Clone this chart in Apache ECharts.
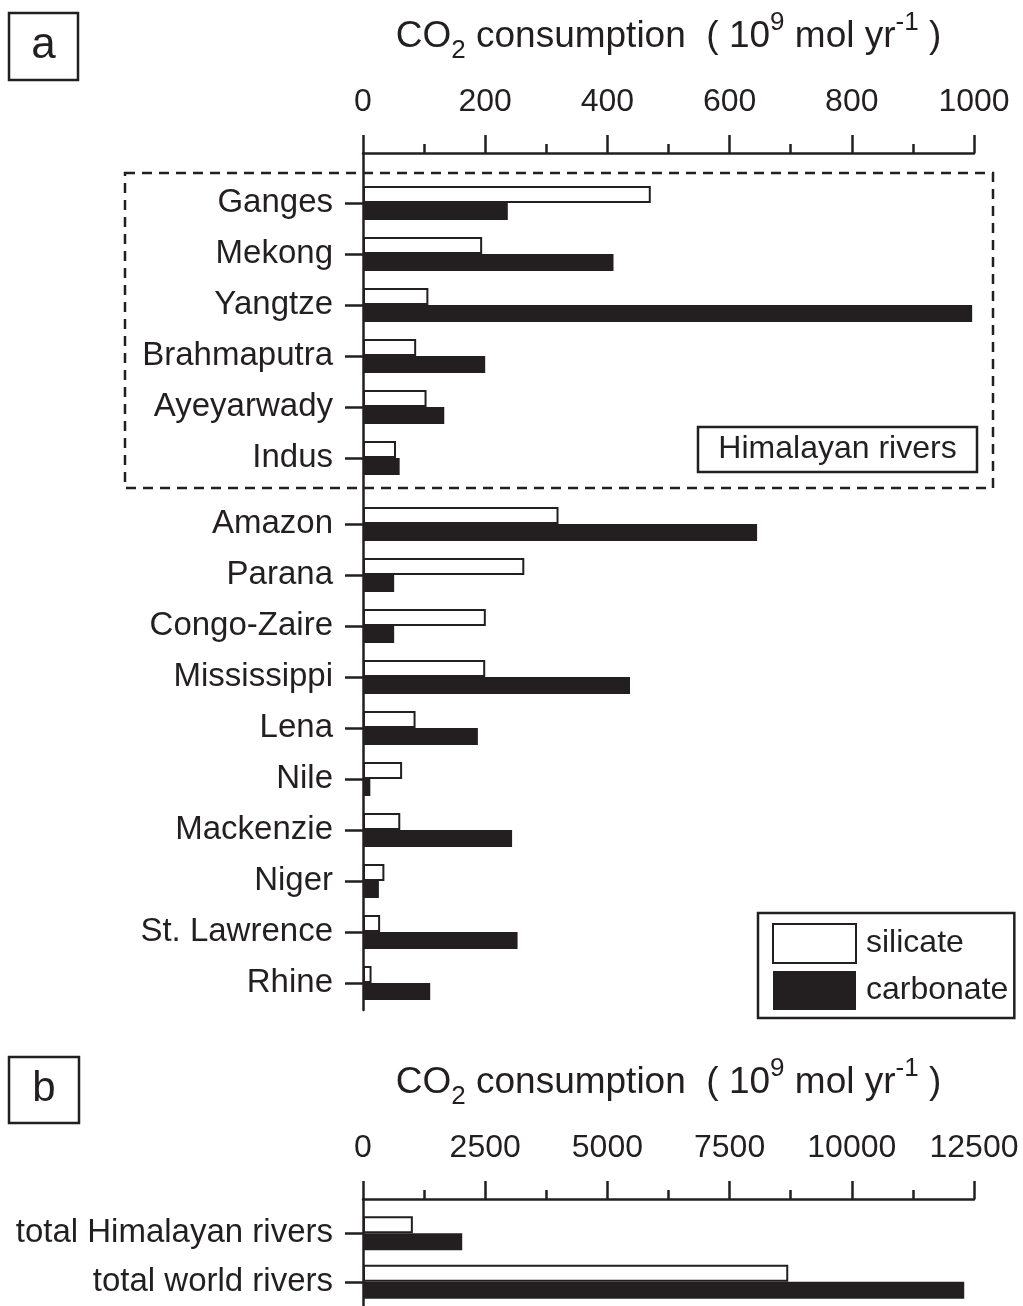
<!DOCTYPE html>
<html>
<head>
<meta charset="utf-8">
<title>CO2 consumption by river weathering</title>
<script src="https://cdn.jsdelivr.net/npm/echarts@6/dist/echarts.min.js"></script>
<style>
  html, body { margin: 0; padding: 0; background: #fff; }
  #chart { width: 1023px; height: 1306px; }
</style>
</head>
<body>
<div id="chart"></div>
<script>
// Panel a: individual rivers (10^9 mol/yr)
const himalayanRivers = ['Ganges', 'Mekong', 'Yangtze', 'Brahmaputra', 'Ayeyarwady', 'Indus'];
const himalayanSilicate = [471, 195, 107, 87, 104, 54];
const himalayanCarbonate = [237, 410, 997, 200, 133, 60];

const otherRivers = ['Amazon', 'Parana', 'Congo-Zaire', 'Mississippi', 'Lena', 'Nile', 'Mackenzie', 'Niger', 'St. Lawrence', 'Rhine'];
const otherSilicate = [320, 264, 201, 200, 86, 64, 61, 35, 28, 14];
const otherCarbonate = [645, 51, 51, 437, 188, 12, 244, 26, 253, 110];

// Panel b: totals (10^9 mol/yr)
const totalCategories = ['total Himalayan rivers', 'total world rivers'];
const totalSilicate = [1020, 8700];
const totalCarbonate = [2030, 12300];

// Axis ranges
const axisA = { min: 0, max: 1000, interval: 200 };
const axisB = { min: 0, max: 12500, interval: 2500 };

const INK = '#231f20';
const FONT = "'Liberation Sans', Arial, Helvetica, sans-serif";
const LW = 2.5;

const chart = echarts.init(document.getElementById('chart'), null, { renderer: 'canvas' });

const axisName = 'CO{sub|2} consumption  ( 10{sup|9} mol yr{sup|-1} )';
const nameStyle = {
  fontFamily: FONT, fontSize: 37, color: INK, lineHeight: 54,
  rich: {
    sub: { fontFamily: FONT, fontSize: 26, color: INK, verticalAlign: 'bottom' },
    sup: { fontFamily: FONT, fontSize: 26, color: INK, verticalAlign: 'top' }
  }
};

const L = 363, R = 49;

function frameX(gridIndex, range) {
  return {
    gridIndex, type: 'value', position: 'top',
    min: range.min, max: range.max, interval: range.interval,
    axisLine: { show: true, onZero: false, lineStyle: { color: INK, width: LW } },
    axisTick: { show: true, length: 18, lineStyle: { color: INK, width: LW } },
    minorTick: { show: true, splitNumber: 2, length: 9, lineStyle: { color: INK, width: LW } },
    splitLine: { show: false }, minorSplitLine: { show: false },
    axisLabel: {
      fontFamily: FONT, fontSize: 32, color: INK, margin: 35,
      showMinLabel: true, showMaxLabel: true,
      formatter: v => String(v)
    },
    name: axisName, nameLocation: 'middle', nameGap: 89, nameTextStyle: nameStyle
  };
}
function hiddenX(gridIndex, range) {
  return { gridIndex, type: 'value', show: false, min: range.min, max: range.max, splitLine: { show: false } };
}
function frameY(gridIndex) {
  return {
    gridIndex, type: 'value', min: 0, max: 1,
    axisLine: { show: true, onZero: false, lineStyle: { color: INK, width: LW } },
    axisTick: { show: false }, axisLabel: { show: false }, splitLine: { show: false }
  };
}
function catY(gridIndex, cats) {
  return {
    gridIndex, type: 'category', inverse: true, data: cats,
    axisLine: { show: false },
    axisTick: { show: true, alignWithLabel: true, length: 18, lineStyle: { color: INK, width: LW } },
    axisLabel: { fontFamily: FONT, fontSize: 33, color: INK, margin: 30 },
    splitLine: { show: false }
  };
}
function barPair(axisIndex, sil, carb) {
  return [
    {
      name: 'silicate', type: 'bar', xAxisIndex: axisIndex, yAxisIndex: axisIndex,
      data: sil, barWidth: 17, barGap: '0%',
      itemStyle: { color: '#ffffff', borderColor: INK, borderWidth: 2 }
    },
    {
      name: 'carbonate', type: 'bar', xAxisIndex: axisIndex, yAxisIndex: axisIndex,
      data: carb, barWidth: 17, barGap: '0%',
      itemStyle: { color: INK }
    }
  ];
}

const option = {
  animation: false,
  backgroundColor: '#ffffff',
  grid: [
    { left: L, right: R, top: 153, height: 857 },      // panel a frame
    { left: L, right: R, top: 177.5, height: 306 },    // Himalayan rivers
    { left: L, right: R, top: 498.5, height: 510 },    // other rivers
    { left: L, right: R, top: 1199, bottom: 0 },       // panel b frame
    { left: L, right: R, top: 1209, height: 100 }      // totals
  ],
  xAxis: [
    frameX(0, axisA), hiddenX(1, axisA), hiddenX(2, axisA),
    frameX(3, axisB), hiddenX(4, axisB)
  ],
  yAxis: [
    frameY(0), catY(1, himalayanRivers), catY(2, otherRivers),
    frameY(3), catY(4, totalCategories)
  ],
  legend: {
    orient: 'vertical', left: 758, top: 913,
    padding: [10, 6, 8, 14],
    itemWidth: 83, itemHeight: 39, itemGap: 7,
    icon: 'rect',
    borderColor: INK, borderWidth: 2.5,
    textStyle: { fontFamily: FONT, fontSize: 32, color: INK, padding: [0, 0, 0, 5] },
    data: [
      { name: 'silicate', itemStyle: { color: '#ffffff', borderColor: INK, borderWidth: 2 } },
      { name: 'carbonate', itemStyle: { color: INK, borderWidth: 0 } }
    ]
  },
  series: [
    ...barPair(1, himalayanSilicate, himalayanCarbonate),
    ...barPair(2, otherSilicate, otherCarbonate),
    ...barPair(4, totalSilicate, totalCarbonate)
  ],
  graphic: [
    // panel letters
    { type: 'rect', shape: { x: 9, y: 13, width: 69, height: 67 }, style: { fill: 'none', stroke: INK, lineWidth: 2.5 } },
    { type: 'text', x: 43.5, y: 46, style: { text: 'a', font: '44px ' + FONT, fill: INK, align: 'center', verticalAlign: 'middle' } },
    { type: 'rect', shape: { x: 9, y: 1057, width: 70, height: 66 }, style: { fill: 'none', stroke: INK, lineWidth: 2.5 } },
    { type: 'text', x: 44, y: 1089, style: { text: 'b', font: '42px ' + FONT, fill: INK, align: 'center', verticalAlign: 'middle' } },
    // Himalayan group outline
    { type: 'rect', z: 10, shape: { x: 125, y: 173, width: 868, height: 315 }, style: { fill: 'none', stroke: INK, lineWidth: 2.5, lineDash: [10, 7] } },
    { type: 'rect', z: 10, shape: { x: 698, y: 427, width: 279, height: 45 }, style: { fill: '#fff', stroke: INK, lineWidth: 2.5 } },
    { type: 'text', z: 11, x: 837.5, y: 449.5, style: { text: 'Himalayan rivers', font: '32px ' + FONT, fill: INK, align: 'center', verticalAlign: 'middle' } }
  ]
};

chart.setOption(option);
</script>
</body>
</html>
